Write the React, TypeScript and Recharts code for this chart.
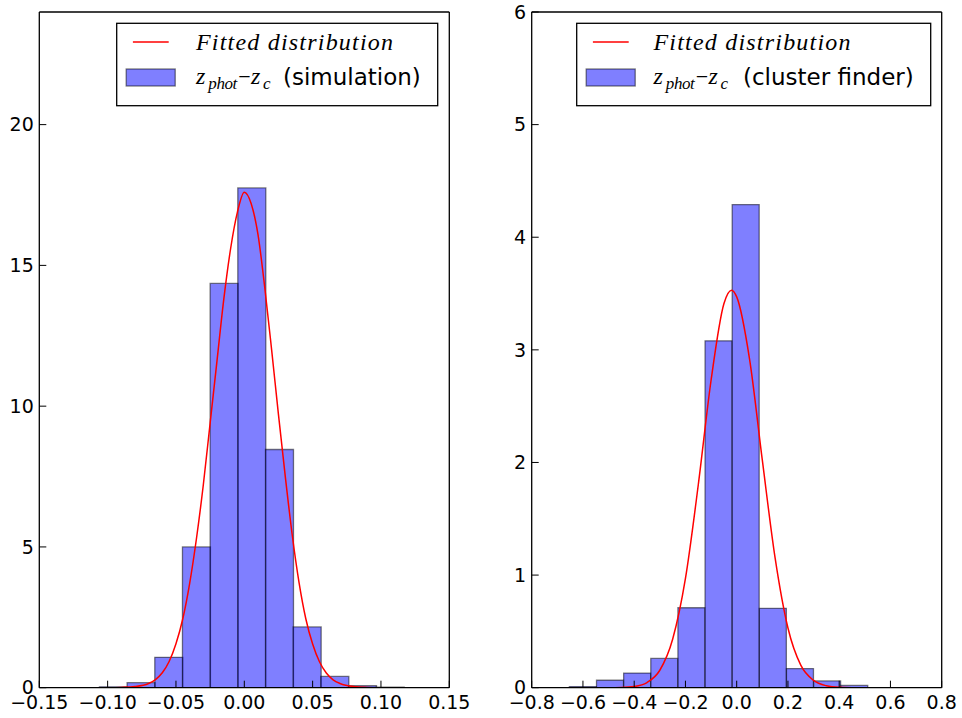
import { Bar, ComposedChart, Line, XAxis, YAxis } from "recharts";

// left panel: z_phot - z_c for the simulation
const simEdges = [-0.106, -0.08575, -0.0655, -0.04525, -0.025, -0.00475, 0.0155, 0.03575, 0.056, 0.07625, 0.0965, 0.11675];
const simDensity = [0.03, 0.18, 1.08, 5.0, 14.36, 17.75, 8.46, 2.16, 0.4, 0.07, 0.02];
const simFitX = [-0.1, -0.09, -0.08, -0.07, -0.065, -0.06, -0.055, -0.05, -0.045, -0.04, -0.035, -0.03, -0.025, -0.02, -0.015, -0.01, -0.005, 0, 0.005, 0.01, 0.015, 0.02, 0.025, 0.03, 0.035, 0.04, 0.045, 0.05, 0.055, 0.06, 0.065, 0.07, 0.08, 0.09, 0.1];
const simFitY = [0.0, 0.01, 0.04, 0.15, 0.29, 0.53, 0.93, 1.56, 2.45, 3.7, 5.3, 7.2, 9.4, 11.6, 13.8, 15.6, 16.9, 17.6, 17.2, 16.1, 14.2, 12.0, 9.7, 7.5, 5.45, 3.75, 2.45, 1.55, 0.92, 0.52, 0.28, 0.15, 0.04, 0.01, 0.0];
const simXTicks = [-0.15, -0.1, -0.05, 0, 0.05, 0.1, 0.15];
const simYTicks = [0, 5, 10, 15, 20];

// right panel: z_phot - z_c from the cluster finder
const cfEdges = [-0.653, -0.5471, -0.4412, -0.3353, -0.2294, -0.1235, -0.0176, 0.0883, 0.1942, 0.3001, 0.406, 0.5119];
const cfDensity = [0.01, 0.066, 0.13, 0.26, 0.71, 3.08, 4.29, 0.705, 0.17, 0.06, 0.02];
const cfFitX = [-0.55, -0.5, -0.45, -0.4, -0.35, -0.3, -0.25, -0.2, -0.15, -0.1, -0.05, -0.02, 0, 0.05, 0.1, 0.15, 0.2, 0.25, 0.3, 0.35, 0.4, 0.45, 0.5];
const cfFitY = [0.0, 0.0, 0.002, 0.011, 0.046, 0.155, 0.43, 0.97, 1.8, 2.73, 3.41, 3.53, 3.47, 2.92, 2.02, 1.15, 0.53, 0.2, 0.065, 0.017, 0.003, 0.0, 0.0];
const cfXTicks = [-0.8, -0.6, -0.4, -0.2, 0, 0.2, 0.4, 0.6, 0.8];
const cfYTicks = [0, 1, 2, 3, 4, 5, 6];

const SANS = "DejaVu Sans";
const MATH = "Liberation Serif";

const fmt = (digits: number) => (v: number) =>
  (v < 0 ? "\u2212" : "") + Math.abs(v).toFixed(digits);

type PanelProps = {
  edges: number[];
  density: number[];
  fitX: number[];
  fitY: number[];
  xTicks: number[];
  yTicks: number[];
  yMax: number;
  digits: number;
  width: number;
  yAxisWidth: number;
  rightMargin: number;
};

function Panel(p: PanelProps) {
  const bins = p.density.map((d, i) => ({ x: (p.edges[i] + p.edges[i + 1]) / 2, d }));
  const fit = p.fitX.map((x, i) => ({ x, y: p.fitY[i] }));
  const xDomain = [p.xTicks[0], p.xTicks[p.xTicks.length - 1]];
  const tickFont = { fontSize: 19, fill: "#000", fontFamily: SANS };
  const axisLine = { stroke: "#000", strokeWidth: 1.3 };
  const tickLine = { stroke: "#000", strokeWidth: 1 };

  // bars sit on the top/right axes, the fitted curve on the bottom/left ones,
  // so all four sides of the frame are drawn (axes need a size > 0 to render)
  return (
    <ComposedChart
      width={p.width}
      height={718}
      data={bins}
      margin={{ top: 11, right: p.rightMargin - 1, bottom: 0, left: 0 }}
      barCategoryGap={0}
      barGap={0}
    >
      <XAxis
        xAxisId="bottom"
        dataKey="x"
        type="number"
        domain={xDomain}
        ticks={p.xTicks}
        interval={0}
        allowDataOverflow
        tickFormatter={fmt(p.digits)}
        tick={tickFont}
        tickSize={-7}
        tickMargin={14.5}
        height={30.3}
        axisLine={axisLine}
        tickLine={tickLine}
      />
      <XAxis
        xAxisId="top"
        orientation="top"
        dataKey="x"
        type="number"
        domain={xDomain}
        ticks={p.xTicks}
        interval={0}
        allowDataOverflow
        tick={false}
        tickSize={-7}
        height={1}
        axisLine={axisLine}
        tickLine={tickLine}
      />
      <YAxis
        yAxisId="left"
        type="number"
        domain={[0, p.yMax]}
        ticks={p.yTicks}
        interval={0}
        allowDataOverflow
        width={p.yAxisWidth}
        tick={tickFont}
        tickSize={-7}
        tickMargin={12.5}
        axisLine={axisLine}
        tickLine={tickLine}
      />
      <YAxis
        yAxisId="right"
        orientation="right"
        type="number"
        domain={[0, p.yMax]}
        ticks={p.yTicks}
        interval={0}
        allowDataOverflow
        width={1}
        tick={false}
        tickSize={-7}
        axisLine={axisLine}
        tickLine={tickLine}
      />
      <Bar
        xAxisId="top"
        yAxisId="right"
        dataKey="d"
        fill="#0000ff"
        fillOpacity={0.5}
        stroke="#000"
        strokeOpacity={0.5}
        strokeWidth={1.3}
        isAnimationActive={false}
      />
      <Line
        xAxisId="bottom"
        yAxisId="left"
        data={fit}
        dataKey="y"
        type="monotone"
        stroke="#ff0000"
        strokeWidth={1.5}
        dot={false}
        activeDot={false}
        isAnimationActive={false}
      />
    </ComposedChart>
  );
}

function LegendBox({ left, width, tx, parenX, label }: { left: number; width: number; tx: number; parenX: number; label: string }) {
  return (
    <g>
      <rect x={left} y={23.3} width={width} height={82.4} fill="#fff" stroke="#000" strokeWidth={1.3} />
      <line x1={left + 16.2} x2={left + 52} y1={42} y2={42} stroke="#ff0000" strokeWidth={1.5} />
      <text x={tx} y={49.5} fontFamily={MATH} fontStyle="italic" fontSize={24} textLength={197} lengthAdjust="spacing">
        Fitted distribution
      </text>
      <rect x={left + 9.5} y={69} width={49} height={17} fill="#0000ff" fillOpacity={0.5} stroke="#000" strokeOpacity={0.5} strokeWidth={1.3} />
      <text x={tx} y={84} fontFamily={MATH} fontStyle="italic" fontSize={24}>z</text>
      <text x={tx + 12.3} y={89} fontFamily={MATH} fontStyle="italic" fontSize={17} textLength={29} lengthAdjust="spacing">phot</text>
      <text x={tx + 48.5} y={84} fontFamily={MATH} fontSize={22} textAnchor="middle">{"\u2212"}</text>
      <text x={tx + 55} y={84} fontFamily={MATH} fontStyle="italic" fontSize={24}>z</text>
      <text x={tx + 67} y={89} fontFamily={MATH} fontStyle="italic" fontSize={17}>c</text>
      <text x={parenX} y={85} fontFamily={SANS} fontSize={23}>{label}</text>
    </g>
  );
}

export default function App() {
  return (
    <div style={{ position: "absolute", left: 0, top: 0, width: 962, height: 718, background: "#fff" }}>
      <div style={{ position: "absolute", left: 0, top: 0 }}>
        <Panel
          edges={simEdges}
          density={simDensity}
          fitX={simFitX}
          fitY={simFitY}
          xTicks={simXTicks}
          yTicks={simYTicks}
          yMax={24}
          digits={2}
          width={480}
          yAxisWidth={39.3}
          rightMargin={30.7}
        />
      </div>
      <div style={{ position: "absolute", left: 480, top: 0 }}>
        <Panel
          edges={cfEdges}
          density={cfDensity}
          fitX={cfFitX}
          fitY={cfFitY}
          xTicks={cfXTicks}
          yTicks={cfYTicks}
          yMax={6}
          digits={1}
          width={482}
          yAxisWidth={51.7}
          rightMargin={20.3}
        />
      </div>
      <svg width={962} height={718} style={{ position: "absolute", left: 0, top: 0, pointerEvents: "none" }}>
        <LegendBox left={116.7} width={321} tx={196} parenX={283} label="(simulation)" />
        <LegendBox left={576.7} width={354} tx={653.5} parenX={743} label="(cluster finder)" />
      </svg>
    </div>
  );
}
